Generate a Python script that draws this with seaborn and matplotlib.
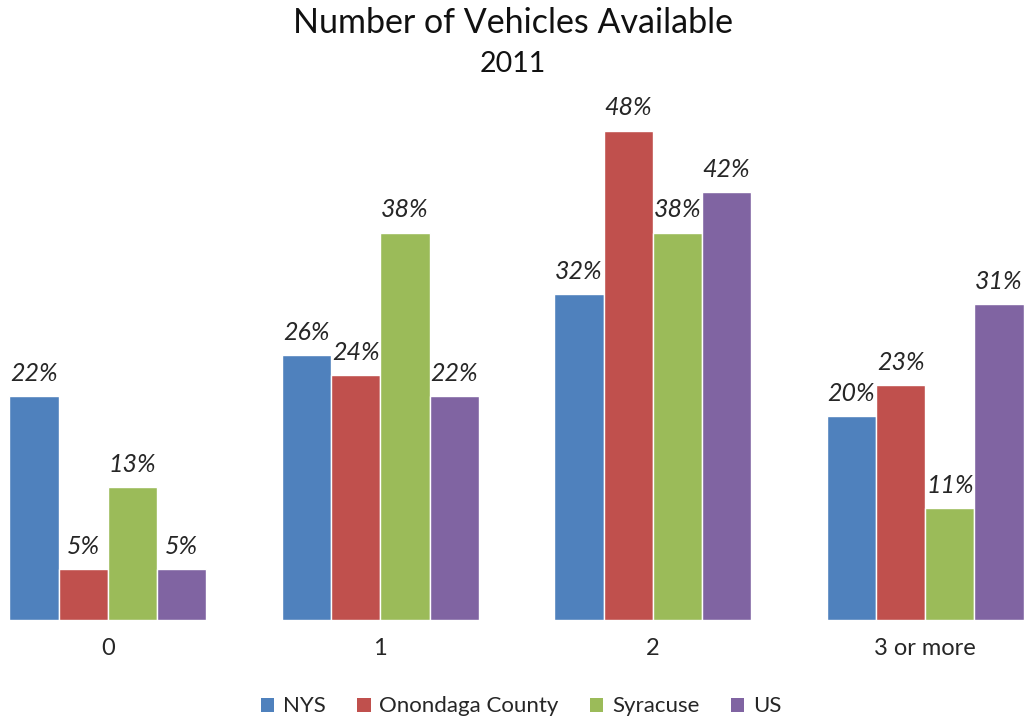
import matplotlib
matplotlib.use("Agg")
import matplotlib.pyplot as plt
from matplotlib.patches import Patch
import pandas as pd
import seaborn as sns

# data (percent of households)
categories = ["0", "1", "2", "3 or more"]
series = ["NYS", "Onondaga County", "Syracuse", "US"]
nys = [22, 26, 32, 20]
onondaga = [5, 24, 48, 23]
syracuse = [13, 38, 38, 11]
us = [5, 22, 42, 31]

COLORS = ["#4F81BD", "#C0504D", "#9BBB59", "#8064A2"]

rows = []
for name, vals in zip(series, [nys, onondaga, syracuse, us]):
    for cat, v in zip(categories, vals):
        rows.append({"Vehicles": cat, "Area": name, "Pct": v})
df = pd.DataFrame(rows)

sns.set_theme(style="white")
plt.rcParams["font.family"] = ["Lato", "DejaVu Sans"]

fig = plt.figure(figsize=(10.26, 7.26), dpi=100)
ax = fig.add_axes([0, 106 / 726, 1, 520 / 726])

sns.barplot(data=df, x="Vehicles", y="Pct", hue="Area", order=categories,
            hue_order=series, palette=COLORS, width=0.7225, saturation=1,
            ax=ax, legend=False)

for c in ax.containers:
    ax.bar_label(c, fmt="%.0f%%", padding=8, fontsize=18, fontstyle="italic",
                 color="#262626")

ax.set_xlim(-0.396, 3.370)
ax.set_ylim(0, 51)
ax.set_xlabel("")
ax.set_ylabel("")
ax.set_yticks([])
ax.tick_params(axis="x", length=0, labelsize=17, pad=13, labelcolor="#262626")
sns.despine(ax=ax, left=True, bottom=True, top=True, right=True)

fig.text(0.5, 0.968, "Number of Vehicles Available", ha="center", va="center",
         fontsize=24.5, color="#111111")
fig.text(0.5, 0.912, "2011", ha="center", va="center", fontsize=20.5,
         color="#111111")

handles = [Patch(facecolor=c, edgecolor="none") for c in COLORS]
fig.legend(handles, series, loc="center", bbox_to_anchor=(0.508, 0.027), ncol=4,
           frameon=False, fontsize=16, handlelength=0.6, handleheight=0.6,
           handletextpad=0.4, columnspacing=1.4, labelcolor="#262626")

fig.savefig("out.png", dpi=100)
